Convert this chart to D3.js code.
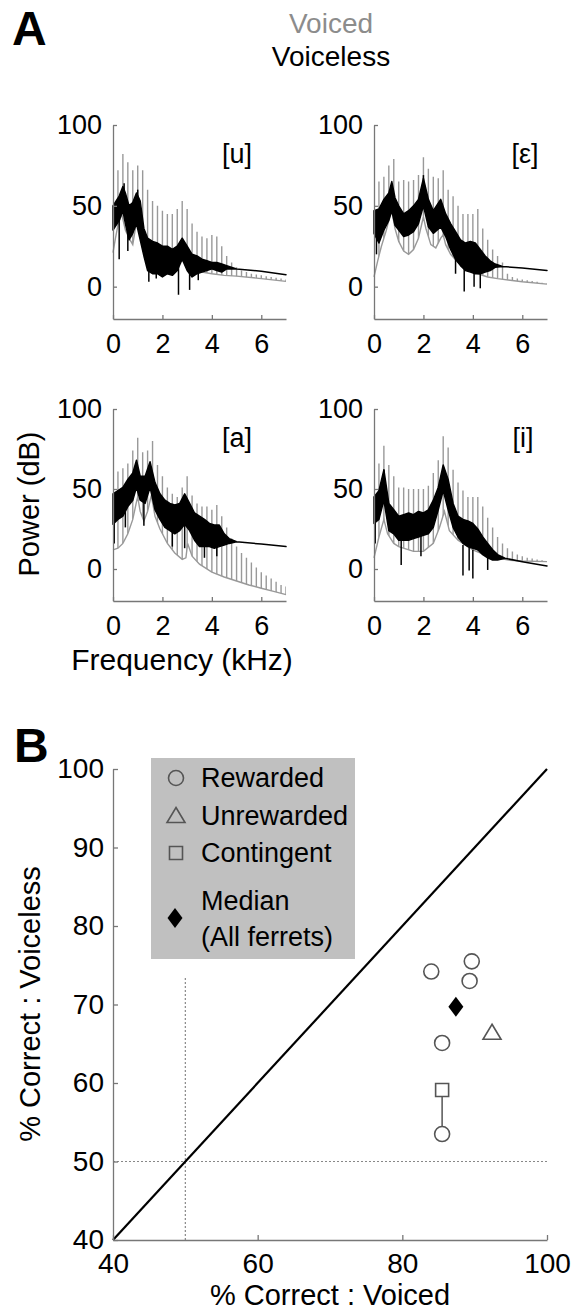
<!DOCTYPE html>
<html>
<head>
<meta charset="utf-8">
<script src="https://cdn.jsdelivr.net/npm/d3@7"></script>
<style>
    body { margin: 0; background: #fff; }
    svg text { font-family: "Liberation Sans", Arial, sans-serif; }
</style>
</head>
<body>
<svg id="chart" width="574" height="1314"></svg>
<script>
// ---- panel A: spectra (kHz, dB) ----
var F0 = 0.2; // harmonic spacing of the voiced token, kHz
var freqTicks = [0, 2, 4, 6];
var dbTicks = [0, 50, 100];

// [u]
var uFloor = [[0, 21], [0.1, 30], [0.2, 38], [0.35, 45], [0.5, 35], [0.65, 30], [0.8, 26], [0.95, 40], [1.1, 33], [1.3, 22], [1.6, 15], [2.0, 12], [2.4, 12], [2.8, 18], [3.2, 12], [3.6, 9], [4.0, 8], [4.5, 7], [5, 6.5], [6, 5], [7, 3.3]];
var uPeaks = [72, 82, 77, 72, 75, 72, 60, 53, 50, 47, 45, 45, 48, 53, 48, 39, 34, 31, 30, 32, 31, 25, 19, 15, 12, 10, 9, 8, 7.5, 7, 6.5, 6, 5.5, 5, 4.5];
var uBand = [[0, 35, 50], [0.25, 41, 56], [0.4, 47, 62], [0.5, 39, 58], [0.65, 29, 50], [0.8, 33, 52], [0.95, 39, 58], [1.1, 29, 53], [1.25, 19, 36], [1.4, 10, 30], [1.6, 8, 28], [1.8, 8, 27], [2.0, 6, 25], [2.2, 8, 25], [2.4, 7, 23], [2.6, 10, 25], [2.8, 17, 30], [3.0, 10, 25], [3.2, 6, 20], [3.4, 8, 19], [3.6, 9, 17], [3.8, 10, 16], [4.0, 11, 15], [4.2, 10, 15], [4.4, 9, 14], [4.6, 11, 13], [5, 11, 11], [6, 9.5, 9.5], [7, 7.4, 7.4]];
var uSpikes = [[0.25, 17, 45], [0.6, 22, 40], [1.45, 3, 15], [1.75, 5, 15], [2.65, -5, 15], [3.1, -2, 12], [3.45, 4, 12], [0.45, 50, 64], [1.0, 45, 60]];

// [ε]
var eFloor = [[0, 6], [0.15, 16], [0.3, 25], [0.5, 35], [0.65, 44], [0.72, 47], [0.85, 36], [1.0, 28], [1.2, 22], [1.4, 20], [1.6, 23], [1.8, 30], [1.95, 40], [2.0, 43], [2.1, 36], [2.3, 26], [2.5, 24], [2.7, 30], [2.8, 32], [2.9, 26], [3.1, 20], [3.4, 15], [3.8, 11], [4.2, 8], [4.6, 6], [5, 5], [6, 3], [7, 1.6]];
var ePeaks = [65, 68, 75, 79, 65, 66, 65, 66, 69, 80, 73, 68, 67, 72, 60, 56, 50, 45, 45, 45, 48, 36, 29, 23, 19, 15, 8, 6, 5, 4.5, 4, 3.5, 3, 2.5, 2];
var eBand = [[0, 33, 47], [0.2, 27, 48], [0.4, 35, 54], [0.6, 41, 58], [0.72, 47, 65], [0.85, 38, 55], [1.0, 35, 50], [1.2, 31, 45], [1.4, 32, 47], [1.6, 34, 50], [1.8, 39, 54], [2.0, 50, 67], [2.2, 37, 54], [2.4, 33, 47], [2.7, 37, 54], [2.9, 31, 45], [3.1, 23, 39], [3.3, 17, 34], [3.5, 13, 29], [3.7, 10, 27], [3.9, 9, 28], [4.1, 8, 27], [4.3, 8, 23], [4.5, 9, 19], [4.7, 10, 16], [4.9, 12, 14], [5.2, 12.5, 12.5], [6, 11.5, 11.5], [7, 10, 10]];
var eSpikes = [[3.65, -3, 15], [4.05, 0, 12], [4.3, -1, 12], [3.3, 8, 20], [0.1, 20, 35], [2.0, 60, 69]];

// [a]
var aFloor = [[0, 12], [0.2, 13], [0.4, 16], [0.6, 22], [0.8, 31], [0.95, 42], [1.0, 45], [1.1, 36], [1.25, 30], [1.4, 36], [1.55, 46], [1.7, 33], [1.9, 25], [2.2, 16], [2.5, 10], [2.8, 6], [2.95, 7], [3.02, 16], [3.2, 8], [3.5, 3], [4, -2], [4.5, -5], [5, -7.5], [5.5, -10], [6, -12], [6.5, -14], [7, -16]];
var aPeaks = [61, 63, 66, 74, 82, 73, 74, 80, 65, 58, 51, 47, 45, 51, 58, 46, 41, 39, 39, 37, 40, 33, 26, 19, 14, 10, 7, 4, 1, -2, -4, -6, -8, -10, -11];
var aBand = [[0, 28, 47], [0.2, 31, 49], [0.4, 33, 51], [0.6, 39, 56], [0.8, 43, 60], [0.95, 51, 68], [1.1, 43, 58], [1.3, 41, 58], [1.5, 51, 67], [1.7, 37, 54], [1.9, 31, 47], [2.1, 26, 43], [2.3, 24, 41], [2.5, 22, 40], [2.7, 24, 41], [2.9, 28, 47], [3.1, 24, 41], [3.3, 18, 35], [3.5, 14, 33], [3.7, 14, 31], [3.9, 14, 28.5], [4.1, 13, 27.5], [4.3, 14, 27.5], [4.5, 15, 22], [4.7, 16, 19], [5, 17, 17], [6, 15.6, 15.6], [7, 14, 14]];
var aSpikes = [[0.05, 16, 35], [0.5, 26, 40], [1.25, 27, 45], [2.4, 14, 30], [2.9, 13, 30], [3.7, 7, 20], [4.2, 8, 20]];

// [i]
var iFloor = [[0, 7], [0.2, 20], [0.4, 31], [0.55, 22], [0.8, 16], [1.0, 14], [1.6, 11], [2.0, 11], [2.4, 16], [2.65, 26], [2.85, 36], [3.05, 24], [3.4, 18], [4.0, 12], [4.6, 8], [5.5, 5.5], [6, 5], [7, 4.6]];
var iPeaks = [66, 77, 65, 58, 51, 51, 50, 50, 50, 50, 52, 60, 68, 83, 76, 62, 54, 49, 45, 45, 45, 39, 32, 26, 20, 16, 13, 11, 9, 8, 7, 6.5, 6, 5.5, 5];
var iBand = [[0, 28.5, 45], [0.2, 31, 49], [0.4, 43, 62], [0.6, 24, 41], [0.8, 22, 37], [1.0, 18, 33], [1.2, 18, 34], [1.4, 18, 35], [1.6, 19, 34], [1.8, 20, 36], [2.0, 21, 35], [2.2, 22, 37], [2.4, 26, 43], [2.6, 37, 51], [2.8, 49, 65], [3.0, 37, 56], [3.2, 26, 41], [3.4, 20, 33], [3.6, 16, 31], [3.8, 14, 30], [4.0, 13, 28.5], [4.2, 12, 25], [4.4, 9, 20], [4.6, 7, 16], [4.8, 5.6, 12], [5.0, 5.6, 9], [5.3, 6.7, 6.7], [6, 4.6, 4.6], [7, 1.9, 1.9]];
var iSpikes = [[0.05, 16, 35], [1.1, 2.5, 20], [1.9, 8, 22], [3.6, -4, 15], [4.0, -6, 12], [4.6, -0.6, 8], [3.85, -1, 14], [0.4, 55, 62]];

// ---- panel B: % correct per ferret ----
var rewardedVoiced = [84.0, 89.6, 89.3, 85.5, 85.5];
var rewardedVoiceless = [74.2, 75.5, 73.0, 65.1, 53.5];
var unrewardedVoiced = [92.4];
var unrewardedVoiceless = [66.4];
var contingentVoiced = [85.5];
var contingentVoiceless = [59.1];
var medianVoiced = [87.4];
var medianVoiceless = [69.7];
var contingentLink = [0, 4]; // contingent ferret 0 also tested rewarded (index 4)
var pctXTicks = [40, 60, 80, 100];
var pctYTicks = [40, 50, 60, 70, 80, 90, 100];
var chanceLevel = 50;
var chanceVerticalTop = 73.5;
var legendLabels = ['Rewarded', 'Unrewarded', 'Contingent', 'Median', '(All ferrets)'];

(function () {
    'use strict';
    var svg = d3.select('#chart');
    var grey = '#999', axisGrey = '#777', font = '"Liberation Sans", Arial, sans-serif';
    var intFmt = d3.format('d');

    function styleAxis(g, size) {
        g.attr('font-size', size).attr('font-family', font);
        g.selectAll('.domain, .tick line').attr('stroke', axisGrey).attr('stroke-width', 1.3);
        g.selectAll('.tick text').attr('fill', '#000');
    }

    var panels = [
        {label: '[u]', floor: uFloor, peaks: uPeaks, band: uBand, spikes: uSpikes, left: 113, top: 125, bottom: 319, lx: 237},
        {label: '[ε]', floor: eFloor, peaks: ePeaks, band: eBand, spikes: eSpikes, left: 374, top: 125, bottom: 319, lx: 525},
        {label: '[a]', floor: aFloor, peaks: aPeaks, band: aBand, spikes: aSpikes, left: 113, top: 409, bottom: 601, lx: 237},
        {label: '[i]', floor: iFloor, peaks: iPeaks, band: iBand, spikes: iSpikes, left: 374, top: 409, bottom: 601, lx: 523}
    ];

    panels.forEach(function (p, i) {
        var x = d3.scaleLinear().domain([0, 7]).range([p.left, p.left + 173]);
        var y = d3.scaleLinear().domain([-20, 100]).range([p.bottom, p.top]);
        var g = svg.append('g');

        // harmonics only show above the voiced floor
        var clipArea = d3.area().x(function (d) { return x(d[0]); })
            .y0(function (d) { return y(d[1]); })
            .y1(p.top - 20);
        svg.append('clipPath').attr('id', 'above' + i)
            .append('path').attr('d', clipArea(p.floor));
        g.append('g').attr('clip-path', 'url(#above' + i + ')')
            .selectAll('line').data(p.peaks).enter().append('line')
            .attr('x1', function (d, k) { return x((k + 1) * F0); })
            .attr('x2', function (d, k) { return x((k + 1) * F0); })
            .attr('y1', function (d) { return y(d); })
            .attr('y2', y(-20))
            .attr('stroke', grey).attr('stroke-width', 1.4);
        var floorLine = d3.line().x(function (d) { return x(d[0]); }).y(function (d) { return y(d[1]); });
        g.append('path').attr('d', floorLine(p.floor))
            .attr('fill', 'none').attr('stroke', grey).attr('stroke-width', 1.4);

        // voiceless spectrum
        var band = d3.area().x(function (d) { return x(d[0]); })
            .y0(function (d) { return y(d[1]); })
            .y1(function (d) { return y(d[2]); });
        g.append('path').attr('d', band(p.band))
            .attr('fill', '#000').attr('stroke', '#000').attr('stroke-width', 1.5).attr('stroke-linejoin', 'round');
        g.selectAll('.spike').data(p.spikes).enter().append('line')
            .attr('x1', function (d) { return x(d[0]); })
            .attr('x2', function (d) { return x(d[0]); })
            .attr('y1', function (d) { return y(d[1]); })
            .attr('y2', function (d) { return y(d[2]); })
            .attr('stroke', '#000').attr('stroke-width', 1.5);

        var xAxis = d3.axisBottom(x).tickValues(freqTicks).tickFormat(intFmt).tickSize(-4).tickSizeOuter(0).tickPadding(15);
        var yAxis = d3.axisLeft(y).tickValues(dbTicks).tickFormat(intFmt).tickSize(-4).tickSizeOuter(0).tickPadding(11);
        g.append('g').attr('transform', 'translate(0,' + p.bottom + ')').call(xAxis).call(styleAxis, 27);
        g.append('g').attr('transform', 'translate(' + p.left + ',0)').call(yAxis).call(styleAxis, 27);

        g.append('text').attr('x', p.lx).attr('y', p.top + 38)
            .attr('text-anchor', 'middle').attr('font-size', 27).text(p.label);
    });

    // panel A titles
    svg.append('text').attr('x', 12).attr('y', 45).attr('font-size', 48).attr('font-weight', 'bold').text('A');
    svg.append('text').attr('x', 331).attr('y', 33).attr('text-anchor', 'middle').attr('font-size', 28).attr('fill', '#8c8c8c').text('Voiced');
    svg.append('text').attr('x', 331).attr('y', 66).attr('text-anchor', 'middle').attr('font-size', 28).attr('fill', '#000').text('Voiceless');
    svg.append('text').attr('transform', 'translate(39,504) rotate(-90)').attr('text-anchor', 'middle').attr('font-size', 29).text('Power (dB)');
    svg.append('text').attr('x', 182).attr('y', 670).attr('text-anchor', 'middle').attr('font-size', 30).text('Frequency (kHz)');

    // ---- panel B ----
    var bx = d3.scaleLinear().domain([40, 100]).range([113, 547]);
    var by = d3.scaleLinear().domain([40, 100]).range([1240, 769]);
    var gb = svg.append('g');

    gb.append('line').attr('x1', bx(40)).attr('x2', bx(100)).attr('y1', by(chanceLevel)).attr('y2', by(chanceLevel))
        .attr('stroke', '#888').attr('stroke-width', 1.2).attr('stroke-dasharray', '2,2');
    gb.append('line').attr('x1', bx(chanceLevel)).attr('x2', bx(chanceLevel)).attr('y1', by(40)).attr('y2', by(chanceVerticalTop))
        .attr('stroke', '#888').attr('stroke-width', 1.2).attr('stroke-dasharray', '2,2');
    gb.append('line').attr('x1', bx(40)).attr('y1', by(40)).attr('x2', bx(100)).attr('y2', by(100))
        .attr('stroke', '#000').attr('stroke-width', 2.2);

    var bxAxis = d3.axisBottom(bx).tickValues(pctXTicks).tickFormat(intFmt).tickSize(-5).tickSizeOuter(0).tickPadding(13);
    var byAxis = d3.axisLeft(by).tickValues(pctYTicks).tickFormat(intFmt).tickSize(-5).tickSizeOuter(0).tickPadding(9);
    gb.append('g').attr('transform', 'translate(0,1240)').call(bxAxis).call(styleAxis, 28);
    gb.append('g').attr('transform', 'translate(113,0)').call(byAxis).call(styleAxis, 28);

    var markStroke = '#555';
    var circle = function (sel) { return sel.append('circle').attr('r', 7.5).attr('fill', 'none').attr('stroke', markStroke).attr('stroke-width', 1.6); };
    var tri = 'M0,-8.5L9,6.5L-9,6.5Z';
    var sq = 'M-6.5,-6.5H6.5V6.5H-6.5Z';
    var diamond = 'M0,-10L7.5,0L0,10L-7.5,0Z';

    // contingent ferret's two conditions joined
    gb.append('line')
        .attr('x1', bx(contingentVoiced[contingentLink[0]])).attr('y1', by(contingentVoiceless[contingentLink[0]]) + 6.5)
        .attr('x2', bx(rewardedVoiced[contingentLink[1]])).attr('y2', by(rewardedVoiceless[contingentLink[1]]) - 7.5)
        .attr('stroke', markStroke).attr('stroke-width', 1.5);

    rewardedVoiced.forEach(function (v, k) {
        circle(gb).attr('cx', bx(v)).attr('cy', by(rewardedVoiceless[k]));
    });
    unrewardedVoiced.forEach(function (v, k) {
        gb.append('path').attr('d', tri).attr('transform', 'translate(' + bx(v) + ',' + by(unrewardedVoiceless[k]) + ')')
            .attr('fill', 'none').attr('stroke', markStroke).attr('stroke-width', 1.6);
    });
    contingentVoiced.forEach(function (v, k) {
        gb.append('path').attr('d', sq).attr('transform', 'translate(' + bx(v) + ',' + by(contingentVoiceless[k]) + ')')
            .attr('fill', 'none').attr('stroke', markStroke).attr('stroke-width', 1.6);
    });
    medianVoiced.forEach(function (v, k) {
        gb.append('path').attr('d', diamond).attr('transform', 'translate(' + bx(v) + ',' + by(medianVoiceless[k]) + ')')
            .attr('fill', '#000');
    });

    // legend
    var lg = svg.append('g');
    lg.append('rect').attr('x', 151).attr('y', 758).attr('width', 204).attr('height', 201).attr('fill', '#c0c0c0');
    circle(lg).attr('cx', 176).attr('cy', 778);
    lg.append('path').attr('d', tri).attr('transform', 'translate(176,816)').attr('fill', 'none').attr('stroke', markStroke).attr('stroke-width', 1.6);
    lg.append('path').attr('d', sq).attr('transform', 'translate(176,853)').attr('fill', 'none').attr('stroke', markStroke).attr('stroke-width', 1.6);
    lg.append('path').attr('d', diamond).attr('transform', 'translate(175,918)').attr('fill', '#000');
    var legendY = [787, 825, 862, 910, 946];
    legendLabels.forEach(function (t, k) {
        lg.append('text').attr('x', 201).attr('y', legendY[k]).attr('font-size', 27).text(t);
    });

    svg.append('text').attr('x', 14).attr('y', 762).attr('font-size', 48).attr('font-weight', 'bold').text('B');
    svg.append('text').attr('x', 330).attr('y', 1305).attr('text-anchor', 'middle').attr('font-size', 29).text('% Correct :  Voiced');
    svg.append('text').attr('transform', 'translate(40,1004) rotate(-90)').attr('text-anchor', 'middle').attr('font-size', 29).text('% Correct :  Voiceless');
})();
</script>
</body>
</html>
